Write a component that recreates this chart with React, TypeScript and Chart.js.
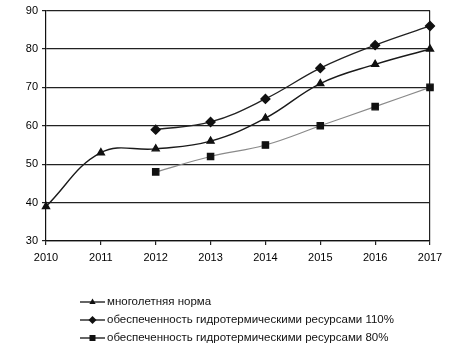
import React, { useEffect, useRef } from "react";
import { Chart, registerables } from "chart.js";

Chart.register(...registerables);

const years = ["2010", "2011", "2012", "2013", "2014", "2015", "2016", "2017"];
const normLabel = "многолетняя норма";
const normValues = [39, 53, 54, 56, 62, 71, 76, 80];
const high110Label = "обеспеченность гидротермическими ресурсами 110%";
const high110Values = [null, null, 59, 61, 67, 75, 81, 86];
const low80Label = "обеспеченность гидротермическими ресурсами 80%";
const low80Values = [null, null, 48, 52, 55, 60, 65, 70];

const FONT = "'Liberation Sans', Arial, sans-serif";

function drawMarker(ctx: CanvasRenderingContext2D, style: string, r: number, x: number, y: number) {
  ctx.beginPath();
  if (style === "triangle") {
    ctx.moveTo(x, y - r);
    ctx.lineTo(x + r * 0.9, y + r * 0.6);
    ctx.lineTo(x - r * 0.9, y + r * 0.6);
  } else if (style === "rectRot") {
    ctx.moveTo(x, y - r);
    ctx.lineTo(x + r, y);
    ctx.lineTo(x, y + r);
    ctx.lineTo(x - r, y);
  } else {
    const h = r * 0.75;
    ctx.rect(x - h, y - h, 2 * h, 2 * h);
  }
  ctx.closePath();
  ctx.fill();
}

const legendPlugin = {
  id: "customLegend",
  afterDraw(chart: any) {
    const ctx = chart.ctx;
    const x0 = 80;
    const x1 = 105;
    const rows = [302, 320, 338];
    ctx.save();
    chart.data.datasets.forEach((ds: any, i: number) => {
      const y = rows[i];
      ctx.strokeStyle = "#111";
      ctx.lineWidth = 1.3;
      ctx.beginPath();
      ctx.moveTo(x0, y);
      ctx.lineTo(x1, y);
      ctx.stroke();
      ctx.fillStyle = "#111";
      drawMarker(ctx, ds.pointStyle, ds.pointRadius - 0.5, (x0 + x1) / 2, y);
      ctx.font = "11.5px " + FONT;
      ctx.textBaseline = "middle";
      ctx.textAlign = "left";
      ctx.fillText(ds.label, x1 + 2, y);
    });
    ctx.restore();
  },
};

export default function App() {
  const ref = useRef<HTMLCanvasElement | null>(null);
  useEffect(() => {
    if (!ref.current) return;
    const chart = new Chart(ref.current, {
      type: "line",
      data: {
        labels: years,
        datasets: [
          {
            label: normLabel,
            data: normValues,
            borderColor: "#1a1a1a",
            backgroundColor: "#111",
            borderWidth: 1.4,
            pointStyle: "triangle",
            pointRadius: 4,
            pointBorderColor: "#111",
            pointBackgroundColor: "#111",
            tension: 0.4,
          },
          {
            label: high110Label,
            data: high110Values,
            borderColor: "#222",
            backgroundColor: "#111",
            borderWidth: 1.3,
            pointStyle: "rectRot",
            pointRadius: 4.5,
            pointBorderColor: "#111",
            pointBackgroundColor: "#111",
            tension: 0.4,
          },
          {
            label: low80Label,
            data: low80Values,
            borderColor: "#8a8a8a",
            backgroundColor: "#111",
            borderWidth: 1.2,
            pointStyle: "rect",
            pointRadius: 4.5,
            pointBorderColor: "#111",
            pointBackgroundColor: "#111",
            tension: 0.4,
          },
        ],
      },
      options: {
        animation: false,
        responsive: false,
        events: [],
        layout: { padding: { left: 0, top: 10, right: 30, bottom: 87 } },
        plugins: { legend: { display: false }, tooltip: { enabled: false } },
        scales: {
          x: {
            offset: false,
            afterFit(scale: any) {
              scale.height = 25;
            },
            border: { display: true, color: "#111", width: 1.2 },
            grid: {
              drawOnChartArea: true,
              color: (c: any) => (c.index === years.length - 1 ? "#222" : "rgba(0,0,0,0)"),
              tickColor: "#222",
              tickLength: 4,
              lineWidth: 1.2,
            },
            ticks: {
              color: "#000",
              font: { family: FONT, size: 11 },
              padding: 6,
              maxRotation: 0,
              autoSkip: false,
            },
          },
          y: {
            min: 30,
            max: 90,
            afterFit(scale: any) {
              scale.width = 46;
            },
            border: { display: true, color: "#111", width: 1.2 },
            grid: {
              color: "#222",
              lineWidth: 1.2,
              tickColor: "#222",
              tickLength: 4,
            },
            ticks: {
              stepSize: 10,
              color: "#000",
              font: { family: FONT, size: 11 },
              padding: 4,
            },
          },
        },
      },
      plugins: [legendPlugin],
    });
    return () => chart.destroy();
  }, []);
  return (
    <div style={{ position: "fixed", left: 0, top: 0, width: 460, height: 353, background: "#fff" }}>
      <canvas ref={ref} width={460} height={353} style={{ width: 460, height: 353, display: "block" }} />
    </div>
  );
}
